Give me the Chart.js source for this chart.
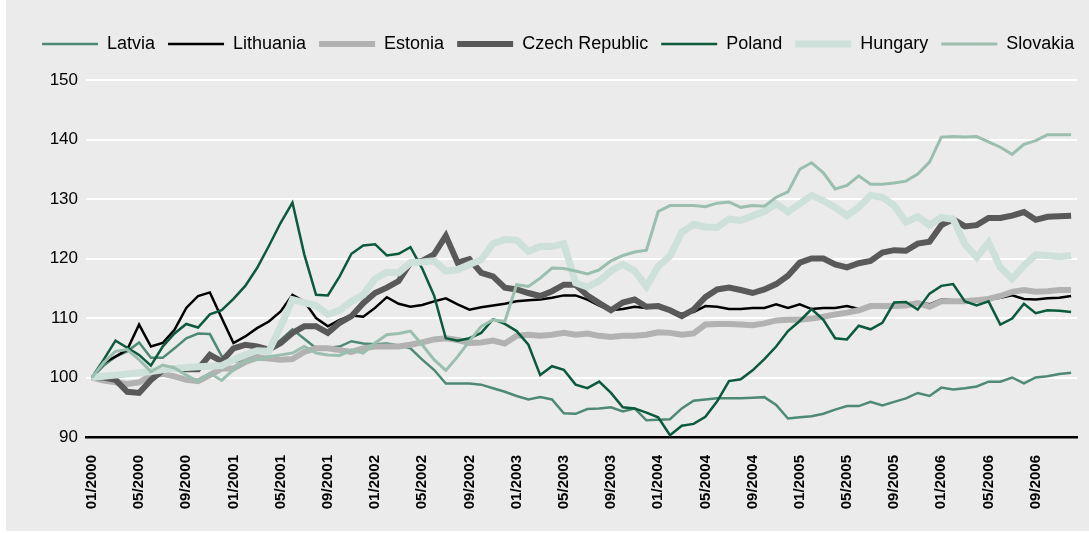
<!DOCTYPE html>
<html>
<head>
<meta charset="utf-8">
<script src="https://cdn.jsdelivr.net/npm/chart.js@4.4.0/dist/chart.umd.min.js"></script>
<style>
  html, body { margin: 0; padding: 0; background: #fff; }
  #wrap { width: 1089px; height: 533px; }
</style>
</head>
<body>
<div id="wrap"><canvas id="chart" width="1089" height="533"></canvas></div>
<script>
// ===== DATA =====
const years = ['2000', '2001', '2002', '2003', '2004', '2005', '2006'];
const months = ['01', '02', '03', '04', '05', '06', '07', '08', '09', '10', '11', '12'];
const labels = [];
years.forEach(y => months.forEach(m => labels.push(m + '/' + y)));

const latvia = [100, 102, 103.5, 104.4, 105.9, 103.3, 103.3, 104.9, 106.6, 107.4, 107.3, 103.6,
  102.6, 103, 104, 104.5, 106.3, 108.1, 106.5, 104.9, 105, 105.2, 106.1, 105.7,
  105.6, 105.7, 105.4, 104.9, 103, 101.3, 99, 99, 99, 98.8, 98.2, 97.6,
  96.9, 96.3, 96.7, 96.3, 94, 93.9, 94.7, 94.8, 95, 94.3, 94.8, 92.8,
  92.9, 93, 94.8, 96.1, 96.3, 96.5, 96.5, 96.5, 96.6, 96.7, 95.4, 93.1,
  93.3, 93.5, 93.9, 94.6, 95.2, 95.2, 95.9, 95.3, 95.9, 96.5, 97.4, 96.9,
  98.3, 98, 98.2, 98.5, 99.3, 99.3, 100, 99, 100, 100.2, 100.6, 100.8];

const lithuania = [100, 102.5, 103.5, 104.7, 108.9, 105.2, 105.8, 108, 111.7, 113.7, 114.3, 110,
  105.8, 106.9, 108.3, 109.4, 111.1, 113.9, 112.8, 110, 108.6, 109.7, 110.4, 110.2,
  111.7, 113.5, 112.4, 111.9, 112.2, 112.8, 113.3, 112.3, 111.4, 111.8, 112.1, 112.4,
  112.8, 113, 113.1, 113.4, 113.8, 113.8, 113.1, 112.1, 111.3, 111.5, 111.9, 111.7,
  111.9, 111.3, 110.7, 111, 112, 111.9, 111.5, 111.5, 111.7, 111.7, 112.3, 111.7,
  112.3, 111.5, 111.7, 111.7, 112, 111.5, 112, 112, 112.2, 112.3, 112.6, 112.3,
  113.1, 113, 112.8, 112.8, 113.1, 113.4, 113.8, 113.2, 113.1, 113.3, 113.4, 113.7];

const estonia = [100, 99.5, 99.2, 98.9, 99.2, 100.3, 100.6, 100.2, 99.6, 99.4, 100.4, 101.5,
  101.5, 102.6, 103.3, 103.2, 103, 103.1, 104.3, 104.9, 104.9, 104.6, 104.3, 104.9,
  105.2, 105.2, 105.2, 105.5, 105.9, 106.4, 106.6, 106.3, 105.8, 105.9, 106.2, 105.7,
  107, 107.2, 107, 107.2, 107.5, 107.2, 107.4, 107, 106.8, 107, 107, 107.2,
  107.6, 107.5, 107.2, 107.4, 108.9, 109, 109, 108.9, 108.8, 109.1, 109.6, 109.7,
  109.7, 109.9, 110.2, 110.6, 110.9, 111.3, 112, 112, 112, 112.1, 112.5, 111.9,
  112.8, 112.8, 112.8, 113, 113.2, 113.7, 114.4, 114.7, 114.4, 114.5, 114.7, 114.7];

const czech = [100, 100, 99.6, 97.6, 97.4, 99.6, 101.2, 101.6, 101.4, 101.4, 103.8, 102.7,
  104.9, 105.5, 105.2, 104.7, 105.8, 107.5, 108.6, 108.6, 107.5, 109.2, 110.3, 112.5,
  114.2, 115.1, 116.2, 119.3, 119.6, 120.7, 123.8, 119.3, 119.9, 117.6, 117, 115.1,
  114.8, 114.2, 113.7, 114.5, 115.6, 115.6, 113.8, 112.5, 111.3, 112.6, 113.1, 111.9,
  112, 111.3, 110.3, 111.4, 113.5, 114.8, 115.1, 114.7, 114.2, 114.8, 115.7, 117.1,
  119.3, 120, 120, 119, 118.5, 119.2, 119.6, 121, 121.4, 121.3, 122.5, 122.8,
  125.6, 126.6, 125.4, 125.6, 126.8, 126.8, 127.2, 127.8, 126.5, 127, 127.1, 127.2];

const poland = [100, 103, 106.2, 105, 103.8, 102, 105.2, 107.4, 109, 108.4, 110.6, 111.3,
  113.2, 115.4, 118.4, 122.1, 126, 129.4, 120.7, 113.9, 113.8, 117, 120.8, 122.2,
  122.4, 120.5, 120.8, 121.9, 118.3, 113.8, 106.6, 106.2, 106.6, 107.5, 109.8, 109,
  107.8, 105.5, 100.4, 101.9, 101.3, 98.8, 98.2, 99.3, 97.4, 95, 94.8, 94.1,
  93.3, 90.3, 91.9, 92.2, 93.4, 96, 99.4, 99.7, 101.2, 103.1, 105.2, 107.8,
  109.5, 111.5, 109.7, 106.6, 106.4, 108.7, 108.1, 109.2, 112.6, 112.7, 111.4, 114.1,
  115.4, 115.7, 112.8, 112.1, 112.8, 108.9, 109.9, 112.4, 110.8, 111.3, 111.2, 111];

const hungary = [100, 100.2, 100.4, 100.6, 100.8, 101, 101.3, 101.5, 101.7, 101.8, 101.9, 102,
  103, 103.8, 104.5, 104.4, 108.6, 113.1, 112.6, 112.1, 110.6, 111.3, 112.8, 113.9,
  116.6, 117.7, 117.6, 119.3, 119.4, 119.6, 117.9, 118.1, 119, 119.8, 122.5, 123.2,
  123.1, 121.2, 122, 122, 122.5, 115.9, 115.2, 116.2, 117.9, 119, 117.9, 115.3,
  118.7, 120.4, 124.4, 125.7, 125.3, 125.2, 126.6, 126.4, 127.2, 127.9, 129.2, 127.8,
  129.2, 130.6, 129.7, 128.6, 127.2, 128.6, 130.6, 130.3, 128.9, 126.1, 127, 125.6,
  126.9, 126.6, 122.4, 120.2, 122.7, 118.5, 116.6, 118.8, 120.6, 120.5, 120.3, 120.5];

const slovakia = [100, 102.5, 104.4, 104.7, 103, 101, 102.1, 101.6, 100.4, 99.3, 100.7, 99.5,
  101.3, 102.7, 103, 103.5, 103.8, 104.1, 105.2, 104.1, 103.8, 103.7, 104.6, 104.1,
  105.8, 107.2, 107.4, 107.8, 105.5, 103, 101.2, 103.5, 106.1, 108.6, 109.7, 109.4,
  115.6, 115.3, 116.7, 118.4, 118.3, 117.9, 117.4, 118.1, 119.6, 120.5, 121.1, 121.4,
  127.9, 128.9, 128.9, 128.9, 128.7, 129.3, 129.5, 128.6, 128.9, 128.8, 130.3, 131.2,
  135, 136.1, 134.4, 131.7, 132.3, 133.9, 132.5, 132.5, 132.7, 133, 134.2, 136.2,
  140.4, 140.5, 140.4, 140.5, 139.6, 138.7, 137.5, 139.2, 139.8, 140.8, 140.8, 140.8];

const yTicks = [90, 100, 110, 120, 130, 140, 150];

// ===== CHART =====
const FONT = '"Liberation Sans", Arial, Helvetica, sans-serif';

// grey panel with a thin white margin on the left and bottom
const bgPlugin = {
  id: 'bg',
  beforeDraw(chart) {
    const c = chart.ctx;
    c.save();
    c.fillStyle = '#ffffff';
    c.fillRect(0, 0, chart.width, chart.height);
    c.fillStyle = '#ebebeb';
    c.fillRect(6, 0, chart.width - 6, chart.height - 2);
    c.restore();
  }
};

// fixed legend band above the plot, first item starting at x = 42
const legendBand = {
  id: 'legendBand',
  beforeInit(chart) {
    const lg = chart.legend;
    const fit = lg.fit;
    lg.fit = function () { fit.call(this); this.height = 80; };
    const draw = lg.draw;
    lg.draw = function () {
      const c = this.ctx;
      const dx = this.legendHitBoxes.length ? 42 - this.legendHitBoxes[0].left : 0;
      c.save();
      c.translate(dx, 44 - (this.options.labels.padding + 9));
      draw.call(this);
      c.restore();
    };
  }
};

function ds(label, data, color, width, order) {
  return { label, data, borderColor: color, backgroundColor: color, borderWidth: width,
    pointRadius: 0, pointHoverRadius: 0, tension: 0, order, borderJoinStyle: 'miter' };
}

new Chart(document.getElementById('chart'), {
  type: 'line',
  data: {
    labels,
    datasets: [
      ds('Latvia', latvia, '#4e8a73', 2.5, 7),
      ds('Lithuania', lithuania, '#000000', 2.5, 6),
      ds('Estonia', estonia, '#b2b2b2', 6, 5),
      ds('Czech Republic', czech, '#595959', 6, 4),
      ds('Poland', poland, '#0a5a3b', 2.5, 3),
      ds('Hungary', hungary, '#cde0d9', 7, 2),
      ds('Slovakia', slovakia, '#9bbfae', 3, 1),
    ]
  },
  options: {
    responsive: false, maintainAspectRatio: false, animation: false, devicePixelRatio: 1,
    layout: { padding: { left: 0, right: 12, top: 0, bottom: 0 } },
    plugins: {
      tooltip: { enabled: false },
      legend: {
        position: 'top',
        labels: {
          usePointStyle: true, pointStyleWidth: 56, boxHeight: 18,
          padding: 13, color: '#000', font: { family: FONT, size: 18 },
          generateLabels: chart => chart.data.datasets.map((d, i) => ({
            text: d.label, fillStyle: d.borderColor, strokeStyle: d.borderColor,
            lineWidth: d.borderWidth, pointStyle: 'line', hidden: false, datasetIndex: i
          }))
        }
      }
    },
    scales: {
      x: {
        offset: true,
        grid: { display: false, drawTicks: false },
        border: { display: true, color: '#000', width: 2.5 },
        afterFit: s => { s.height = 96; s.paddingLeft = 0; s.paddingRight = 0; },
        ticks: {
          autoSkip: false, maxRotation: 90, minRotation: 90, padding: 18,
          color: '#000', font: { family: FONT, size: 15, weight: 'bold' },
          callback: (v, i) => (i % 4 === 0 ? labels[i] : '')
        }
      },
      y: {
        min: yTicks[0], max: yTicks[yTicks.length - 1],
        afterFit: s => { s.width = 86; },
        afterBuildTicks: s => { s.ticks = yTicks.map(v => ({ value: v })); },
        grid: { color: '#ffffff', lineWidth: 2, drawTicks: false },
        border: { display: false },
        ticks: { padding: 8, color: '#000', font: { family: FONT, size: 17 } }
      }
    }
  },
  plugins: [bgPlugin, legendBand]
});
</script>
</body>
</html>
